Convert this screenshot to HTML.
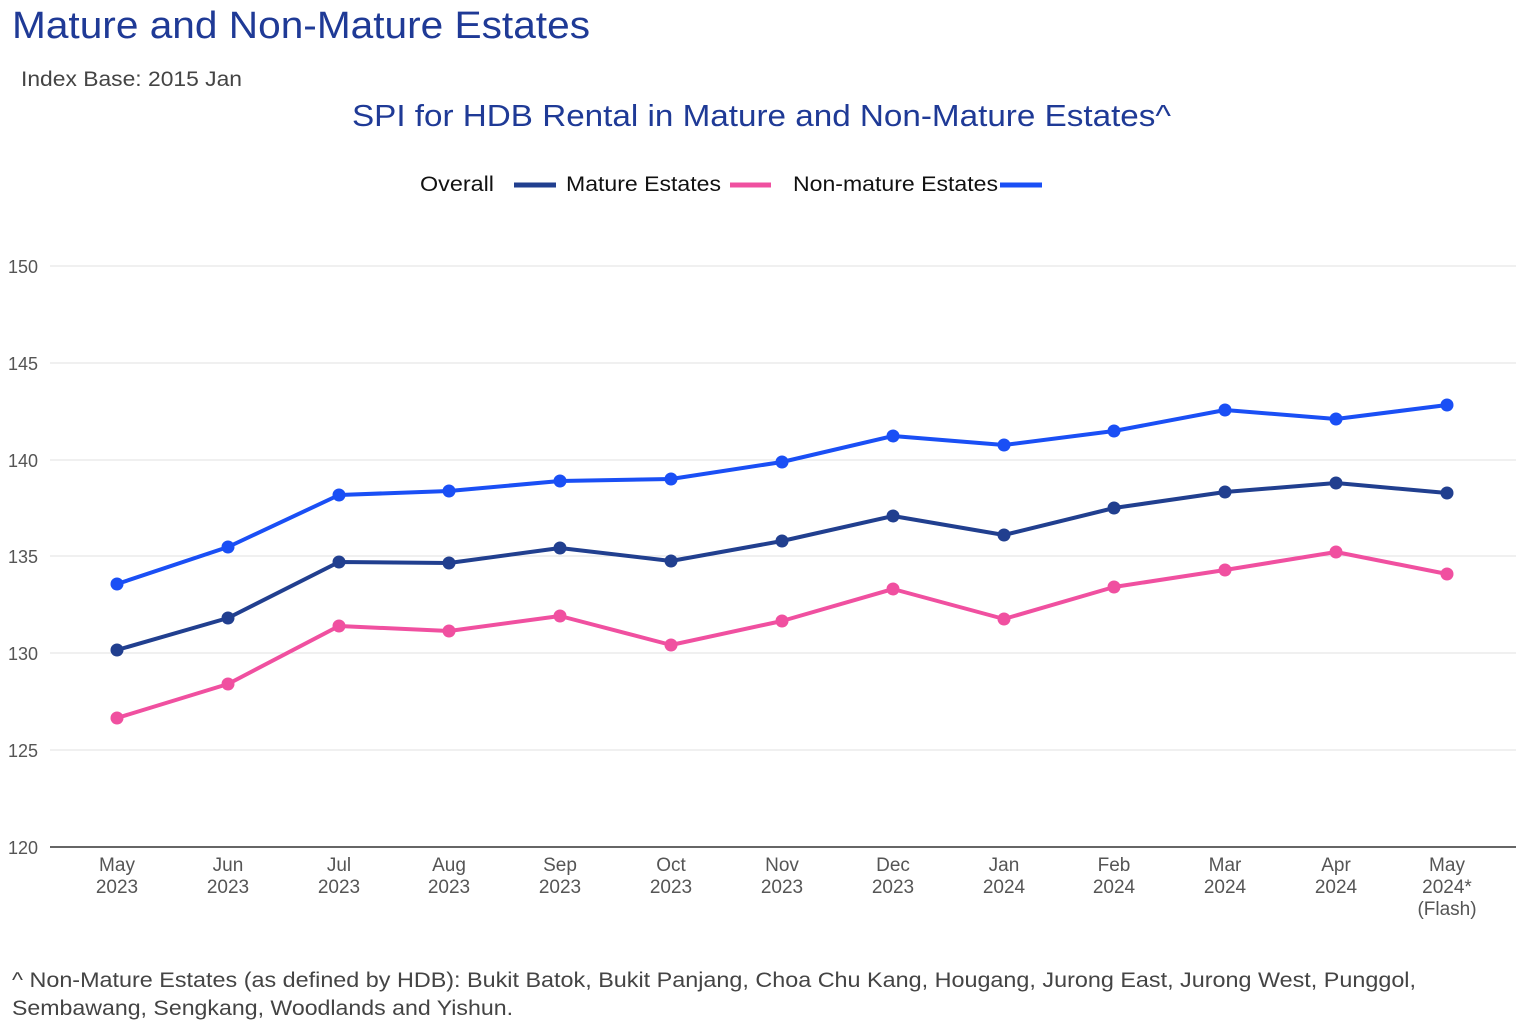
<!DOCTYPE html>
<html><head><meta charset="utf-8"><style>
body{margin:0;background:#fff;width:1516px;height:1025px;overflow:hidden;font-family:"Liberation Sans",sans-serif;}
</style></head><body>
<svg width="1516" height="1025" xmlns="http://www.w3.org/2000/svg" font-family="Liberation Sans, sans-serif">
<text x="12" y="38" font-size="38" fill="#1f3a96" textLength="578" lengthAdjust="spacingAndGlyphs">Mature and Non-Mature Estates</text>
<text x="21" y="86" font-size="21" fill="#444" textLength="221" lengthAdjust="spacingAndGlyphs">Index Base: 2015 Jan</text>
<text x="352" y="126" font-size="31" fill="#1f3a96" textLength="819" lengthAdjust="spacingAndGlyphs">SPI for HDB Rental in Mature and Non-Mature Estates^</text>
<g font-size="21" fill="#111">
<text x="420" y="191" textLength="74" lengthAdjust="spacingAndGlyphs">Overall</text>
<line x1="514" y1="185" x2="556" y2="185" stroke="#213f8f" stroke-width="5"/>
<text x="566" y="191" textLength="155" lengthAdjust="spacingAndGlyphs">Mature Estates</text>
<line x1="730" y1="185" x2="771" y2="185" stroke="#f050a0" stroke-width="5"/>
<text x="793" y="191" textLength="205" lengthAdjust="spacingAndGlyphs">Non-mature Estates</text>
<line x1="1000" y1="185" x2="1042" y2="185" stroke="#1a4ff5" stroke-width="5"/>
</g>
<g stroke="#e2e2e2" stroke-width="1">
<line x1="50" y1="266" x2="1516" y2="266"/><line x1="50" y1="363" x2="1516" y2="363"/>
<line x1="50" y1="460" x2="1516" y2="460"/><line x1="50" y1="556" x2="1516" y2="556"/>
<line x1="50" y1="653" x2="1516" y2="653"/><line x1="50" y1="750" x2="1516" y2="750"/>
</g>
<line x1="50" y1="847" x2="1516" y2="847" stroke="#333" stroke-width="1.5"/>
<g font-size="18" fill="#555">
<text x="8" y="273">150</text><text x="8" y="370">145</text><text x="8" y="467">140</text>
<text x="8" y="563">135</text><text x="8" y="660">130</text><text x="8" y="757">125</text><text x="8" y="854">120</text>
</g>
<g font-size="19" fill="#555" text-anchor="middle">
<text x="117" y="871">May</text><text x="117" y="893">2023</text>
<text x="228" y="871">Jun</text><text x="228" y="893">2023</text>
<text x="339" y="871">Jul</text><text x="339" y="893">2023</text>
<text x="449" y="871">Aug</text><text x="449" y="893">2023</text>
<text x="560" y="871">Sep</text><text x="560" y="893">2023</text>
<text x="671" y="871">Oct</text><text x="671" y="893">2023</text>
<text x="782" y="871">Nov</text><text x="782" y="893">2023</text>
<text x="893" y="871">Dec</text><text x="893" y="893">2023</text>
<text x="1004" y="871">Jan</text><text x="1004" y="893">2024</text>
<text x="1114" y="871">Feb</text><text x="1114" y="893">2024</text>
<text x="1225" y="871">Mar</text><text x="1225" y="893">2024</text>
<text x="1336" y="871">Apr</text><text x="1336" y="893">2024</text>
<text x="1447" y="871">May</text><text x="1447" y="893">2024*</text><text x="1447" y="915">(Flash)</text>
</g>
<g fill="none" stroke-width="4" stroke-linejoin="round">
<polyline stroke="#1a4ff5" points="117,584 228,547 339,495 449,491 560,481 671,479 782,462 893,436 1004,445 1114,431 1225,410 1336,419 1447,405"/>
<polyline stroke="#213f8f" points="117,650 228,618 339,562 449,563 560,548 671,561 782,541 893,516 1004,535 1114,508 1225,492 1336,483 1447,493"/>
<polyline stroke="#f050a0" points="117,718 228,684 339,626 449,631 560,616 671,645 782,621 893,589 1004,619 1114,587 1225,570 1336,552 1447,574"/>
</g>
<g fill="#1a4ff5"><circle cx="117" cy="584" r="6.5"/><circle cx="228" cy="547" r="6.5"/><circle cx="339" cy="495" r="6.5"/><circle cx="449" cy="491" r="6.5"/><circle cx="560" cy="481" r="6.5"/><circle cx="671" cy="479" r="6.5"/><circle cx="782" cy="462" r="6.5"/><circle cx="893" cy="436" r="6.5"/><circle cx="1004" cy="445" r="6.5"/><circle cx="1114" cy="431" r="6.5"/><circle cx="1225" cy="410" r="6.5"/><circle cx="1336" cy="419" r="6.5"/><circle cx="1447" cy="405" r="6.5"/></g>
<g fill="#213f8f"><circle cx="117" cy="650" r="6.5"/><circle cx="228" cy="618" r="6.5"/><circle cx="339" cy="562" r="6.5"/><circle cx="449" cy="563" r="6.5"/><circle cx="560" cy="548" r="6.5"/><circle cx="671" cy="561" r="6.5"/><circle cx="782" cy="541" r="6.5"/><circle cx="893" cy="516" r="6.5"/><circle cx="1004" cy="535" r="6.5"/><circle cx="1114" cy="508" r="6.5"/><circle cx="1225" cy="492" r="6.5"/><circle cx="1336" cy="483" r="6.5"/><circle cx="1447" cy="493" r="6.5"/></g>
<g fill="#f050a0"><circle cx="117" cy="718" r="6.5"/><circle cx="228" cy="684" r="6.5"/><circle cx="339" cy="626" r="6.5"/><circle cx="449" cy="631" r="6.5"/><circle cx="560" cy="616" r="6.5"/><circle cx="671" cy="645" r="6.5"/><circle cx="782" cy="621" r="6.5"/><circle cx="893" cy="589" r="6.5"/><circle cx="1004" cy="619" r="6.5"/><circle cx="1114" cy="587" r="6.5"/><circle cx="1225" cy="570" r="6.5"/><circle cx="1336" cy="552" r="6.5"/><circle cx="1447" cy="574" r="6.5"/></g>
<g font-size="21" fill="#444">
<text x="12" y="987" textLength="1404" lengthAdjust="spacingAndGlyphs">^ Non-Mature Estates (as defined by HDB): Bukit Batok, Bukit Panjang, Choa Chu Kang, Hougang, Jurong East, Jurong West, Punggol,</text>
<text x="12" y="1015" textLength="501" lengthAdjust="spacingAndGlyphs">Sembawang, Sengkang, Woodlands and Yishun.</text>
</g>
</svg>
</body></html>
